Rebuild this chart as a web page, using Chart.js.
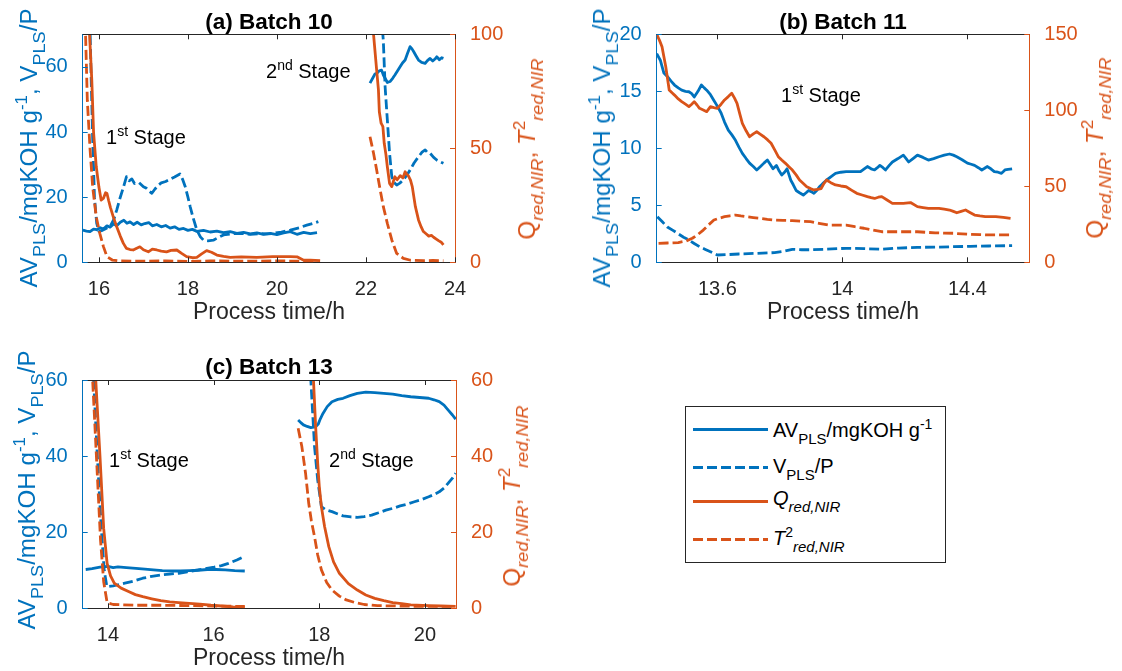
<!DOCTYPE html>
<html>
<head>
<meta charset="utf-8">
<script src="https://cdn.jsdelivr.net/npm/chart.js@4.4.1/dist/chart.umd.min.js"></script>
<style>
  html, body { margin: 0; padding: 0; background: #fff; }
  body { position: relative; width: 1122px; height: 671px; overflow: hidden;
         font-family: 'Liberation Sans', Arial, sans-serif; }
  canvas { position: absolute; }
  .t { position: absolute; white-space: nowrap; line-height: 20px; z-index: 2; }
  .title { font-weight: bold; font-size: 22.5px; color: #000; transform: translate(-50%, -50%); }
  .xlab { font-size: 23px; color: #262626; transform: translate(-50%, -50%); line-height: 24px; }
  .ylab { font-size: 23px; line-height: 24px; height: 24px;
          transform: translate(-50%, -50%) rotate(-90deg) scale(1.05, 1); }
  .blue { color: #0072BD; }
  .orange { color: #D95319; }
  .note { font-size: 20px; color: #000; }
  sub { font-size: 0.75em; vertical-align: -0.48em; line-height: 0; }
  sup { font-size: 0.7em; vertical-align: 0.6em; line-height: 0; }
  .legend { position: absolute; left: 685px; top: 406px; width: 259px; height: 155px;
            border: 1px solid #262626; background: #fff; z-index: 1; }
  .lg-line { position: absolute; left: 693px; width: 75px; height: 3px; z-index: 2; }
  .lg-text { position: absolute; left: 773px; font-size: 20px; line-height: 20px; color: #000;
             white-space: nowrap; z-index: 2; }
</style>
</head>
<body>
<canvas id="cA" width="560" height="300" style="left:0;top:0;width:560px;height:300px"></canvas>
<canvas id="cB" width="562" height="300" style="left:560px;top:0;width:562px;height:300px"></canvas>
<canvas id="cC" width="560" height="341" style="left:0;top:330px;width:560px;height:341px"></canvas>

<!-- panel titles -->
<div class="t title" style="left:269px;top:22px">(a) Batch 10</div>
<div class="t title" style="left:843px;top:22px">(b) Batch 11</div>
<div class="t title" style="left:269px;top:367px">(c) Batch 13</div>

<!-- x axis titles -->
<div class="t xlab" style="left:269px;top:311px">Process time/h</div>
<div class="t xlab" style="left:843px;top:311px">Process time/h</div>
<div class="t xlab" style="left:269px;top:657px">Process time/h</div>

<!-- left axis titles -->
<div class="t ylab blue" style="left:29px;top:148px">AV<sub>PLS</sub>/mgKOH g<sup>-1</sup>, V<sub>PLS</sub>/P</div>
<div class="t ylab blue" style="left:602px;top:148px">AV<sub>PLS</sub>/mgKOH g<sup>-1</sup>, V<sub>PLS</sub>/P</div>
<div class="t ylab blue" style="left:27px;top:490px">AV<sub>PLS</sub>/mgKOH g<sup>-1</sup>, V<sub>PLS</sub>/P</div>

<!-- right axis titles -->
<div class="t ylab orange" style="left:527px;top:149px">Q<sub><i>red,NIR</i></sub>, <i>T</i><sup>2</sup><sub><i>red,NIR</i></sub></div>
<div class="t ylab orange" style="left:1095px;top:148px">Q<sub><i>red,NIR</i></sub>, <i>T</i><sup>2</sup><sub><i>red,NIR</i></sub></div>
<div class="t ylab orange" style="left:512px;top:496px">Q<sub><i>red,NIR</i></sub>, <i>T</i><sup>2</sup><sub><i>red,NIR</i></sub></div>

<!-- stage annotations -->
<div class="t note" style="left:106px;top:127px">1<sup>st</sup> Stage</div>
<div class="t note" style="left:266px;top:61px">2<sup>nd</sup> Stage</div>
<div class="t note" style="left:781px;top:85px">1<sup>st</sup> Stage</div>
<div class="t note" style="left:109px;top:450px">1<sup>st</sup> Stage</div>
<div class="t note" style="left:329px;top:450px">2<sup>nd</sup> Stage</div>

<!-- shared legend -->
<div class="legend"></div>
<div class="lg-line" style="top:428px;background:#0072BD"></div>
<div class="lg-line" style="top:466px;background:repeating-linear-gradient(to right,#0072BD 0 10px,transparent 10px 14px)"></div>
<div class="lg-line" style="top:500px;background:#D95319"></div>
<div class="lg-line" style="top:538px;background:repeating-linear-gradient(to right,#D95319 0 10px,transparent 10px 14px)"></div>
<div class="lg-text" style="top:420px">AV<sub>PLS</sub>/mgKOH g<sup>-1</sup></div>
<div class="lg-text" style="top:456px">V<sub>PLS</sub>/P</div>
<div class="lg-text" style="top:488px"><i>Q</i><sub><i>red,NIR</i></sub></div>
<div class="lg-text" style="top:528px"><i>T</i><sup>2</sup><sub><i>red,NIR</i></sub></div>

<script>
// ---------- values: [process time / h, value] ----------
// Batch 10, first stage
const A_AV_STAGE1 = [[15.64,9.9],[15.72,9.6],[15.8,9.4],[15.88,10.2],[15.95,10.0],[16.03,10.6],[16.1,10.2],[16.18,11.2],[16.25,10.8],[16.33,11.8],[16.4,11.2],[16.48,12.3],[16.56,12.9],[16.63,12.0],[16.7,12.4],[16.78,11.6],[16.86,12.3],[16.95,11.5],[17.03,11.9],[17.12,12.2],[17.2,11.2],[17.3,11.6],[17.4,10.9],[17.5,11.3],[17.6,10.5],[17.7,10.9],[17.8,10.1],[17.9,10.4],[18.0,9.8],[18.1,10.1],[18.2,9.5],[18.35,9.8],[18.5,9.3],[18.65,9.6],[18.8,9.1],[18.95,9.4],[19.1,8.9],[19.25,9.2],[19.4,8.7],[19.55,9.0],[19.7,8.6],[19.85,8.9],[20.0,8.5],[20.15,9.0],[20.3,9.4],[20.45,8.6],[20.6,9.2],[20.75,8.8],[20.9,9.1]];
const A_VP_STAGE1 = [[15.64,160],[15.72,120],[15.78,85],[15.82,60],[15.86,38],[15.9,20],[15.95,12],[16.0,9.5],[16.08,9.8],[16.16,10.4],[16.25,11],[16.33,13],[16.4,16],[16.47,19.5],[16.55,23],[16.62,26.3],[16.68,25],[16.74,25.6],[16.8,24.2],[16.9,24.5],[17.0,23.2],[17.07,22.7],[17.13,21.8],[17.19,21.2],[17.26,22.5],[17.33,23.6],[17.4,24.4],[17.5,24.8],[17.6,25.5],[17.7,26.2],[17.78,26.8],[17.82,27.1],[17.88,25.5],[17.94,23.2],[18.0,20],[18.05,17.1],[18.12,13.5],[18.2,9.9],[18.28,7.8],[18.35,6.8],[18.45,6.6],[18.57,6.8],[18.68,7.6],[18.8,8.4],[19.0,8.8],[19.17,8.9],[19.4,8.6],[19.6,8.8],[19.8,8.7],[19.92,8.9],[20.1,9.3],[20.3,9.9],[20.5,10.6],[20.67,11.4],[20.8,11.9],[20.93,12.5]];
const A_Q_STAGE1 = [[15.64,170],[15.72,128],[15.79,100],[15.84,80],[15.88,57],[15.94,42],[16.0,33],[16.05,27.3],[16.1,28],[16.15,30.5],[16.18,30.3],[16.22,27],[16.26,24],[16.33,19.5],[16.4,15.6],[16.48,11.5],[16.55,8.3],[16.62,6.1],[16.7,5.6],[16.77,5.4],[16.85,6.2],[16.92,6.8],[17.0,5.5],[17.11,4.6],[17.2,5.8],[17.3,5.4],[17.4,4.9],[17.52,4.6],[17.62,5.2],[17.75,5.4],[17.85,4.0],[17.97,2.5],[18.1,2.0],[18.2,2.2],[18.3,3.6],[18.42,5.1],[18.53,4.4],[18.65,3.2],[18.8,2.6],[18.95,2.2],[19.2,2.4],[19.55,2.2],[19.9,2.5],[20.3,2.5],[20.45,2.4],[20.59,1.0],[20.75,0.9],[20.97,0.7]];
const A_T2_STAGE1 = [[15.64,130],[15.7,100],[15.74,71],[15.8,50],[15.86,33],[15.94,20],[16.02,12.7],[16.1,7],[16.18,2.5],[16.3,1.0],[16.5,0.6],[17.0,0.5],[17.5,0.6],[18.0,0.4],[18.5,0.6],[19.0,0.5],[19.5,0.5],[20.0,0.6],[20.5,0.5],[20.9,0.4]];
// Batch 10, second stage
const A_AV_STAGE2 = [[22.09,55.0],[22.15,56.5],[22.2,57.8],[22.24,58],[22.3,58.8],[22.35,59],[22.39,57.5],[22.43,56.5],[22.48,55.2],[22.54,55.5],[22.6,56.5],[22.65,57.5],[22.71,58.8],[22.77,60.1],[22.82,61.2],[22.88,62.1],[22.93,64],[22.99,66.2],[23.03,65.6],[23.07,64.7],[23.12,63.5],[23.18,62.1],[23.25,61.4],[23.33,61.1],[23.38,61.9],[23.44,62.6],[23.5,61.8],[23.55,62.4],[23.59,63.1],[23.65,62.2],[23.7,62.8],[23.74,62.6]];
const A_VP_STAGE2 = [[22.09,110],[22.25,90],[22.35,75],[22.39,68],[22.43,53.9],[22.48,43.7],[22.53,33.5],[22.58,26.3],[22.63,24.5],[22.69,23.7],[22.76,24.3],[22.84,25.3],[22.92,26.8],[22.99,28.3],[23.08,30.5],[23.18,32.4],[23.26,33.8],[23.33,34.5],[23.39,33.6],[23.44,33.5],[23.52,32.2],[23.59,31.4],[23.66,30.9],[23.74,30.4]];
const A_Q_STAGE2 = [[22.09,130],[22.17,100],[22.24,84.3],[22.28,75.6],[22.3,66],[22.34,61],[22.38,59.5],[22.41,52.2],[22.45,47],[22.48,41.9],[22.53,34.6],[22.58,33.2],[22.62,35.8],[22.65,37.5],[22.7,36.2],[22.77,38],[22.83,37],[22.88,39.7],[22.92,38.5],[22.95,38],[23.0,36],[23.04,33.2],[23.11,24.4],[23.18,18.6],[23.24,15.5],[23.29,13.5],[23.35,12.5],[23.41,11.5],[23.47,11.8],[23.52,11],[23.58,10.2],[23.63,9.5],[23.69,8.8],[23.74,7.6]];
const A_T2_STAGE2 = [[22.09,55.1],[22.13,51.5],[22.17,47.8],[22.24,40.5],[22.32,31.7],[22.39,24.4],[22.48,17.1],[22.58,9.8],[22.69,3.9],[22.84,1.75],[23.0,0.9],[23.3,0.7],[23.5,0.8],[23.74,0.7]];

// Batch 11
const B_AV = [[13.406,18.3],[13.418,17.7],[13.429,16.6],[13.44,16.3],[13.452,15.9],[13.463,15.55],[13.475,15.3],[13.486,15.1],[13.498,15.0],[13.509,14.96],[13.518,14.8],[13.526,14.5],[13.538,15.0],[13.549,15.55],[13.558,15.3],[13.566,15.1],[13.578,14.7],[13.589,14.2],[13.6,13.7],[13.612,13.1],[13.623,12.3],[13.635,11.6],[13.646,11.2],[13.658,10.7],[13.669,10.1],[13.68,9.56],[13.692,9.1],[13.703,8.7],[13.715,8.4],[13.726,8.1],[13.738,8.4],[13.749,8.7],[13.76,8.97],[13.769,8.6],[13.778,8.2],[13.789,8.5],[13.798,8.0],[13.806,7.66],[13.815,7.9],[13.823,8.2],[13.835,7.2],[13.843,6.8],[13.852,6.3],[13.863,6.1],[13.875,5.9],[13.884,6.1],[13.892,6.3],[13.9,6.2],[13.909,6.05],[13.918,6.3],[13.926,6.6],[13.937,6.9],[13.949,7.2],[13.963,7.5],[13.978,7.8],[13.995,7.9],[14.012,7.95],[14.035,7.95],[14.058,7.95],[14.07,8.2],[14.08,8.4],[14.092,8.2],[14.103,8.1],[14.112,8.3],[14.12,8.5],[14.13,8.3],[14.138,8.1],[14.15,8.5],[14.16,8.8],[14.178,9.1],[14.195,9.4],[14.204,9.1],[14.212,8.8],[14.226,9.1],[14.24,9.4],[14.258,9.2],[14.275,8.97],[14.292,9.1],[14.309,9.26],[14.326,9.4],[14.343,9.5],[14.355,9.4],[14.366,9.26],[14.383,9.0],[14.4,8.7],[14.412,8.6],[14.423,8.5],[14.435,8.3],[14.446,8.1],[14.455,8.25],[14.463,8.4],[14.475,8.2],[14.486,7.95],[14.498,7.9],[14.509,7.8],[14.52,8.1],[14.53,8.15],[14.543,8.2]];
const B_VP = [[13.408,4.0],[13.424,3.55],[13.44,3.1],[13.458,2.8],[13.475,2.5],[13.492,2.2],[13.509,1.96],[13.526,1.65],[13.543,1.37],[13.56,1.15],[13.578,0.93],[13.6,0.64],[13.635,0.68],[13.669,0.73],[13.72,0.78],[13.783,0.85],[13.81,0.95],[13.84,1.14],[13.87,1.1],[13.898,1.1],[13.95,1.15],[14.012,1.23],[14.07,1.2],[14.126,1.14],[14.18,1.25],[14.24,1.31],[14.3,1.33],[14.355,1.37],[14.41,1.4],[14.469,1.43],[14.543,1.46]];
const B_Q = [[13.406,150],[13.415,146],[13.423,141.8],[13.435,128.7],[13.446,113.4],[13.455,111.5],[13.463,110],[13.475,107.5],[13.486,105.7],[13.498,104],[13.509,102.4],[13.518,104],[13.526,105.7],[13.535,103.5],[13.543,101.3],[13.555,100.2],[13.566,99.1],[13.578,102.4],[13.589,101.8],[13.6,101.3],[13.612,104],[13.623,106.8],[13.635,109],[13.646,111.2],[13.655,108],[13.663,104.6],[13.672,97.5],[13.68,91.4],[13.692,86.5],[13.703,82.6],[13.715,84.5],[13.726,85.9],[13.738,84.2],[13.749,82.6],[13.761,80.5],[13.772,78.3],[13.784,73.8],[13.795,69.5],[13.806,67.3],[13.818,65.1],[13.829,62.8],[13.84,60.7],[13.852,57.5],[13.863,54.1],[13.875,51.8],[13.886,49.7],[13.898,48.5],[13.909,47.6],[13.92,48],[13.932,48.5],[13.94,51.5],[13.949,54.1],[13.963,52.4],[13.978,50.9],[13.995,50.2],[14.012,49.7],[14.029,47.5],[14.046,45.4],[14.063,44.3],[14.08,43.2],[14.092,42.5],[14.103,42],[14.115,42.8],[14.126,43.2],[14.143,41],[14.16,38.8],[14.178,38.8],[14.195,38.8],[14.218,39.3],[14.24,36.6],[14.258,36],[14.275,35.5],[14.292,35.5],[14.309,35.5],[14.326,35],[14.343,34.4],[14.355,33.5],[14.366,32.6],[14.38,33.5],[14.394,34.4],[14.408,32.8],[14.423,31.1],[14.44,30.5],[14.457,30],[14.474,30],[14.491,30],[14.515,29.5],[14.538,28.9]];
const B_T2 = [[13.412,12.5],[13.44,12.7],[13.475,13],[13.5,14],[13.52,15.8],[13.538,18.3],[13.555,21.2],[13.572,24.6],[13.589,27.8],[13.606,29],[13.623,30],[13.64,30.6],[13.658,31.1],[13.675,30.5],[13.692,30],[13.715,29.4],[13.738,28.9],[13.76,28.3],[13.783,27.8],[13.81,27.6],[13.84,27.4],[13.87,27],[13.898,26.7],[13.925,25.6],[13.955,24.5],[13.985,24.5],[14.012,24.5],[14.04,23.4],[14.069,22.4],[14.097,21.2],[14.126,20.1],[14.155,20.1],[14.183,20.1],[14.21,20.1],[14.24,20.1],[14.27,19.7],[14.297,19.4],[14.326,19.2],[14.355,19.1],[14.383,18.7],[14.412,18.4],[14.44,18.2],[14.469,18],[14.5,18],[14.538,18]];

// Batch 13, first stage
const C_AV_STAGE1 = [[13.58,10.2],[13.7,10.4],[13.85,10.8],[14.0,11.0],[14.1,10.7],[14.19,10.9],[14.35,10.7],[14.53,10.5],[14.7,10.3],[14.86,10.1],[15.03,9.9],[15.2,9.8],[15.37,9.8],[15.54,9.9],[15.71,10.0],[15.88,10.2],[16.05,10.2],[16.22,10.1],[16.4,9.9],[16.59,9.8]];
const C_VP_STAGE1 = [[13.58,130],[13.7,75],[13.73,60],[13.8,40],[13.87,22],[13.93,10],[13.98,5.7],[14.1,5.9],[14.32,6.6],[14.5,7.2],[14.66,7.9],[14.83,8.4],[15.0,8.75],[15.17,9.0],[15.34,9.2],[15.5,9.6],[15.67,10.0],[15.84,10.4],[16.01,10.8],[16.15,11.2],[16.28,11.8],[16.44,12.7],[16.59,13.7]];
const C_Q_STAGE1 = [[13.58,130],[13.7,85],[13.77,60],[13.85,40],[13.92,21],[13.985,11.8],[14.05,8.5],[14.12,6.6],[14.25,5.3],[14.39,4.4],[14.52,3.6],[14.66,3.05],[14.83,2.5],[15.0,2.0],[15.17,1.7],[15.34,1.5],[15.54,1.3],[15.74,1.1],[15.95,0.8],[16.15,0.6],[16.37,0.4],[16.59,0.3]];
const C_T2_STAGE1 = [[13.58,100],[13.7,63],[13.74,52],[13.8,35],[13.86,18],[13.92,7],[13.985,1.5],[14.1,1.0],[14.5,0.8],[15.0,0.8],[15.5,0.7],[16.0,0.6],[16.59,0.5]];
// Batch 13, second stage
const C_AV_STAGE2 = [[17.6,49.5],[17.65,48.8],[17.7,48.2],[17.77,47.8],[17.84,47.5],[17.9,47.6],[17.94,47.8],[17.98,48.4],[18.02,49.8],[18.07,51.2],[18.15,53],[18.24,54.3],[18.35,54.9],[18.45,55.2],[18.58,55.9],[18.72,56.5],[18.88,56.8],[19.05,56.7],[19.22,56.5],[19.39,56.3],[19.56,55.9],[19.73,55.6],[19.9,55.4],[20.07,55.2],[20.17,54.8],[20.27,54.3],[20.36,53.4],[20.44,52.1],[20.52,50.8],[20.58,49.7]];
const C_VP_STAGE2 = [[17.6,120],[17.75,85],[17.84,60],[17.91,42.5],[17.97,33.7],[18.04,26.7],[18.12,25.9],[18.24,25.4],[18.35,24.8],[18.45,24.3],[18.6,24.0],[18.72,23.9],[18.85,24.1],[18.99,24.5],[19.12,25.1],[19.26,25.8],[19.4,26.3],[19.53,26.9],[19.67,27.4],[19.8,28.0],[19.94,28.6],[20.07,29.3],[20.17,29.9],[20.27,30.6],[20.36,31.6],[20.44,32.9],[20.52,34.2],[20.58,35.5]];
const C_Q_STAGE2 = [[17.6,150],[17.8,90],[17.89,60],[17.93,48],[17.97,38.1],[18.0,32],[18.04,26.7],[18.1,21.5],[18.18,16.2],[18.27,12.2],[18.38,9.2],[18.55,6.5],[18.72,4.8],[18.88,3.5],[19.05,2.6],[19.22,2.0],[19.39,1.5],[19.56,1.2],[19.73,0.9],[20.07,0.7],[20.3,0.6],[20.58,0.5]];
const C_T2_STAGE2 = [[17.6,47.3],[17.67,42.5],[17.74,35.5],[17.8,27.6],[17.85,23],[17.91,18.8],[17.97,14],[18.04,10.1],[18.14,6.8],[18.24,4.8],[18.38,3.2],[18.51,2.2],[18.68,1.5],[18.85,1.0],[19.1,0.7],[19.5,0.6],[20.0,0.5],[20.58,0.5]];

// ---------- tick values ----------
const A_X_TICKS = [16, 18, 20, 22, 24];
const A_YL_TICKS = [0, 20, 40, 60];
const A_YR_TICKS = [0, 50, 100];
const B_X_TICKS = [13.6, 14, 14.4];
const B_YL_TICKS = [0, 5, 10, 15, 20];
const B_YR_TICKS = [0, 50, 100, 150];
const C_X_TICKS = [14, 16, 18, 20];
const C_YL_TICKS = [0, 20, 40, 60];
const C_YR_TICKS = [0, 20, 40, 60];

// ---------- styling ----------
const BLUE = '#0072BD';
const ORANGE = '#D95319';
const DARK = '#262626';
const DASH = [10, 4];
const FONT = "'Liberation Sans', Arial, sans-serif";
Chart.defaults.font.family = FONT;
Chart.defaults.font.size = 20;

// Box frame with inward tick marks, as drawn by MATLAB axes
const frame = {
  id: 'frame',
  afterDraw(chart) {
    const { ctx, chartArea: a, scales } = chart;
    const L = 5;
    ctx.save();
    ctx.lineWidth = 1;
    ctx.strokeStyle = DARK;
    ctx.beginPath();
    ctx.moveTo(a.left, Math.round(a.top) + 0.5);
    ctx.lineTo(a.right, Math.round(a.top) + 0.5);
    scales.x.ticks.forEach(t => {
      const p = Math.round(scales.x.getPixelForValue(t.value)) + 0.5;
      ctx.moveTo(p, a.bottom); ctx.lineTo(p, a.bottom - L);
      ctx.moveTo(p, a.top); ctx.lineTo(p, a.top + L);
    });
    ctx.stroke();
    ctx.strokeStyle = BLUE;
    ctx.beginPath();
    scales.yL.ticks.forEach(t => {
      const p = Math.round(scales.yL.getPixelForValue(t.value)) + 0.5;
      ctx.moveTo(a.left, p); ctx.lineTo(a.left + L, p);
    });
    ctx.stroke();
    ctx.strokeStyle = ORANGE;
    ctx.beginPath();
    scales.yR.ticks.forEach(t => {
      const p = Math.round(scales.yR.getPixelForValue(t.value)) + 0.5;
      ctx.moveTo(a.right, p); ctx.lineTo(a.right - L, p);
    });
    ctx.stroke();
    ctx.restore();
  }
};

function line(pts, axis, dashed) {
  const color = axis === 'yR' ? ORANGE : BLUE;
  return {
    data: pts.map(([x, y]) => ({ x, y })),
    yAxisID: axis,
    borderColor: color,
    backgroundColor: color,
    borderWidth: 2.8,
    borderDash: dashed ? DASH : [],
    borderJoinStyle: 'round',
    pointRadius: 0,
    fill: false,
    tension: 0,
    order: axis === 'yR' ? 0 : 1
  };
}

function setTicks(list) {
  return scale => { scale.ticks = list.map(v => ({ value: v })); };
}

function panel(id, o) {
  return new Chart(document.getElementById(id), {
    type: 'line',
    data: { datasets: o.datasets },
    options: {
      responsive: false,
      animation: false,
      events: [],
      layout: { padding: { top: o.top, left: 0, right: 0, bottom: 0 } },
      plugins: { legend: { display: false }, tooltip: { enabled: false } },
      scales: {
        x: {
          type: 'linear', min: o.xMin, max: o.xMax,
          afterBuildTicks: setTicks(o.xTicks),
          afterFit: s => { s.height = o.h - o.bottom; },
          grid: { display: false },
          border: { display: true, color: DARK, width: 1 },
          ticks: { color: DARK, padding: 7, maxRotation: 0, autoSkip: false,
                   callback: v => String(v) }
        },
        yL: {
          type: 'linear', position: 'left', min: 0, max: o.yLMax,
          afterBuildTicks: setTicks(o.yLTicks),
          afterFit: s => { s.width = o.left; },
          grid: { display: false },
          border: { display: true, color: BLUE, width: 1 },
          ticks: { color: BLUE, padding: 7, callback: v => String(v) }
        },
        yR: {
          type: 'linear', position: 'right', min: 0, max: o.yRMax,
          afterBuildTicks: setTicks(o.yRTicks),
          afterFit: s => { s.width = o.w - o.right; },
          grid: { display: false },
          border: { display: true, color: ORANGE, width: 1 },
          ticks: { color: ORANGE, padding: 7, callback: v => String(v) }
        }
      }
    },
    plugins: [frame]
  });
}

// (a) Batch 10
panel('cA', {
  w: 560, h: 300, left: 82.7, right: 455, top: 34.3, bottom: 262.3,
  xMin: 15.636, xMax: 24, xTicks: A_X_TICKS,
  yLMax: 70, yLTicks: A_YL_TICKS, yRMax: 100, yRTicks: A_YR_TICKS,
  datasets: [
    line(A_Q_STAGE1, 'yR', false), line(A_T2_STAGE1, 'yR', true),
    line(A_Q_STAGE2, 'yR', false), line(A_T2_STAGE2, 'yR', true),
    line(A_AV_STAGE1, 'yL', false), line(A_VP_STAGE1, 'yL', true),
    line(A_AV_STAGE2, 'yL', false), line(A_VP_STAGE2, 'yL', true)
  ]
});

// (b) Batch 11
panel('cB', {
  w: 562, h: 300, left: 96.7, right: 469.3, top: 34.3, bottom: 262.3,
  xMin: 13.406, xMax: 14.598, xTicks: B_X_TICKS,
  yLMax: 20, yLTicks: B_YL_TICKS, yRMax: 150, yRTicks: B_YR_TICKS,
  datasets: [
    line(B_Q, 'yR', false), line(B_T2, 'yR', true),
    line(B_AV, 'yL', false), line(B_VP, 'yL', true)
  ]
});

// (c) Batch 13
panel('cC', {
  w: 560, h: 341, left: 82.7, right: 456, top: 50, bottom: 278.3,
  xMin: 13.523, xMax: 20.587, xTicks: C_X_TICKS,
  yLMax: 60, yLTicks: C_YL_TICKS, yRMax: 60, yRTicks: C_YR_TICKS,
  datasets: [
    line(C_Q_STAGE1, 'yR', false), line(C_T2_STAGE1, 'yR', true),
    line(C_Q_STAGE2, 'yR', false), line(C_T2_STAGE2, 'yR', true),
    line(C_AV_STAGE1, 'yL', false), line(C_VP_STAGE1, 'yL', true),
    line(C_AV_STAGE2, 'yL', false), line(C_VP_STAGE2, 'yL', true)
  ]
});
</script>
</body>
</html>
